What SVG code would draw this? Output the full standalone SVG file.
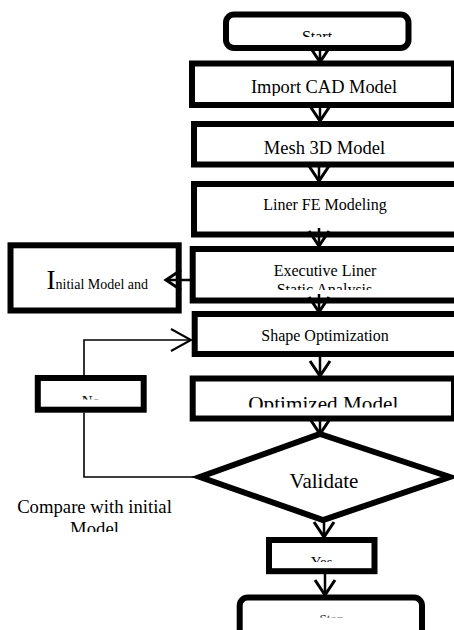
<svg xmlns="http://www.w3.org/2000/svg" width="454" height="630" viewBox="0 0 454 630">
<style>
.box{fill:#fff;stroke:#000;stroke-width:6}
.t{font-family:"Liberation Serif","Times New Roman",serif;fill:#000;text-anchor:middle}
.c{fill:none;stroke:#000;stroke-width:2.5}
.thin{fill:none;stroke:#000;stroke-width:1.6}
</style>
<defs>
<marker id="ah" markerUnits="userSpaceOnUse" viewBox="0 0 20 24" markerWidth="20" markerHeight="24" refX="17" refY="12" orient="auto">
<path d="M2,2 L17,12 L2,22" fill="none" stroke="#000" stroke-width="3"/>
</marker>
<marker id="ah2" markerUnits="userSpaceOnUse" viewBox="0 0 24 26" markerWidth="24" markerHeight="26" refX="21" refY="13" orient="auto">
<path d="M1,2 L21,13 L1,24" fill="none" stroke="#000" stroke-width="2"/>
</marker>
<clipPath id="cStart"><rect x="226" y="14" width="183" height="23"/></clipPath>
<clipPath id="cImport"><rect x="192" y="63" width="262" height="33"/></clipPath>
<clipPath id="cExec"><rect x="193" y="249" width="261" height="41"/></clipPath>
<clipPath id="cOpt"><rect x="193" y="378" width="261" height="29.5"/></clipPath>
<clipPath id="cNo"><rect x="38" y="378" width="106" height="21.5"/></clipPath>
<clipPath id="cCmp"><rect x="0" y="490" width="200" height="42"/></clipPath>
<clipPath id="cYes"><rect x="269" y="540" width="106" height="22"/></clipPath>
<clipPath id="cStop"><rect x="240" y="597" width="182" height="20.5"/></clipPath>
</defs>

<g id="start">
<rect class="box" x="226" y="14.5" width="182.5" height="33.5" rx="8" stroke-width="5.5"/>
<text class="t" x="317" y="42.3" font-size="16" clip-path="url(#cStart)">Start</text>
</g>
<g id="import">
<rect class="box" x="192" y="63.5" width="262" height="41.5"/>
<text class="t" x="324" y="92.5" font-size="18.4" clip-path="url(#cImport)">Import CAD Model</text>
</g>
<g id="mesh">
<rect class="box" x="194" y="124" width="270" height="40.5"/>
<text class="t" x="324.5" y="154.3" font-size="18.5">Mesh 3D Model</text>
</g>
<g id="liner">
<rect class="box" x="194" y="184" width="270" height="50.5"/>
<text class="t" x="325" y="209.5" font-size="16">Liner FE Modeling</text>
</g>
<g id="initial">
<rect class="box" x="10.5" y="245.3" width="168.2" height="65.2"/>
<text x="46.5" y="289" font-family="Liberation Serif,Times New Roman,serif" font-size="14"><tspan font-size="27">I</tspan>nitial Model and</text>
</g>
<g id="executive">
<rect class="box" x="192.7" y="249" width="270" height="51.5"/>
<g clip-path="url(#cExec)">
<text class="t" x="325" y="275.5" font-size="16">Executive Liner</text>
<text class="t" x="324.5" y="294.5" font-size="16">Static Analysis</text>
</g>
</g>
<g id="shape">
<rect class="box" x="194.7" y="314" width="270" height="40"/>
<text class="t" x="325" y="340.5" font-size="16">Shape Optimization</text>
</g>
<g id="optimized">
<rect class="box" x="192.7" y="378.5" width="261.3" height="40"/>
<text class="t" x="323.3" y="410.7" font-size="21.2" clip-path="url(#cOpt)">Optimized Model</text>
</g>
<g id="no">
<rect class="box" x="37.8" y="378" width="105.9" height="31.7"/>
<text class="t" x="90.8" y="406" font-size="15" clip-path="url(#cNo)">No</text>
</g>
<g id="validate">
<polygon class="box" points="320,434 450,477 323,520 200,477"/>
<text class="t" x="324" y="487.5" font-size="21">Validate</text>
</g>
<g id="compare">
<g clip-path="url(#cCmp)">
<text class="t" x="94.5" y="513" font-size="18.7">Compare with initial</text>
<text class="t" x="94.5" y="534.5" font-size="18.7">Model</text>
</g>
</g>
<g id="yes">
<rect class="box" x="269" y="540" width="105.5" height="31.2"/>
<text class="t" x="321.7" y="567" font-size="15" clip-path="url(#cYes)">Yes</text>
</g>
<g id="stop">
<rect class="box" x="239.7" y="597.5" width="182.3" height="50" rx="8"/>
<text class="t" x="331.5" y="623" font-size="13" clip-path="url(#cStop)">Stop</text>
</g>

<g id="connectors">
<line class="c" x1="320" y1="46" x2="320" y2="62" marker-end="url(#ah)"/>
<line class="c" x1="320" y1="103" x2="320" y2="121" marker-end="url(#ah)"/>
<line class="c" x1="319" y1="163" x2="319" y2="181" marker-end="url(#ah)"/>
<line class="c" x1="319" y1="228" x2="319" y2="246" marker-end="url(#ah)"/>
<line class="c" x1="319" y1="294" x2="319" y2="312" marker-end="url(#ah)"/>
<line class="c" x1="320" y1="353" x2="320" y2="376" marker-end="url(#ah)"/>
<line class="c" x1="320" y1="417" x2="320" y2="434" marker-end="url(#ah)"/>
<line class="c" x1="324" y1="518" x2="324" y2="537" marker-end="url(#ah)"/>
<line class="c" x1="325" y1="572" x2="325" y2="595" marker-end="url(#ah)"/>
<line class="c" x1="190" y1="280" x2="166" y2="280" marker-end="url(#ah)"/>
<path class="thin" d="M200,477 H84 V412.5 M84,375 V340 H191" marker-end="url(#ah2)"/>
</g>
</svg>
